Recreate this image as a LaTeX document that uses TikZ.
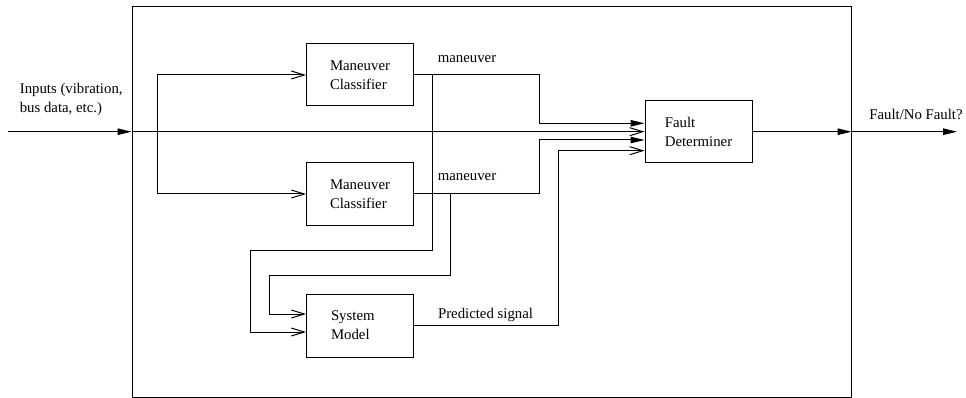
\documentclass[tikz,border=0pt]{standalone}
\usepackage{fontspec}
\setmainfont{Liberation Serif}
\usetikzlibrary{arrows.meta}
\begin{document}
\begin{tikzpicture}[x=1pt, y=-1pt, line width=1pt,
    every node/.style={font=\fontsize{14.8}{19}\selectfont},
    block/.style={draw, minimum width=107pt, minimum height=62pt, align=left, inner sep=0pt},
    solidarrow/.style={-{Triangle[length=14pt,width=6.5pt]}},
    openarrow/.style={-{Straight Barb[length=13pt,width=8pt]}}]
    \useasboundingbox (0,0) rectangle (966,398);

    % Frame
    \node[draw, minimum width=719pt, minimum height=390pt, inner sep=0pt] (sys) at (491.5,202) {};

    % Blocks
    \node[block] (mc1) at (360,75) {Maneuver\\Classifier};
    \node[block] (mc2) at (360,194) {Maneuver\\Classifier};
    \node[block, minimum height=63pt, text width=58pt] (sm) at (360,325.5) {System\\Model};
    \node[block] (fd) at (698.5,131.7) {Fault\\Determiner};

    % Labels
    \node[align=left, anchor=west] (inlabel) at (16,99) {Inputs (vibration,\\bus data, etc.)};
    \node (man1) at (467,59) {maneuver};
    \node (man2) at (467,177) {maneuver};
    \node (pred) at (485.5,315) {Predicted signal};
    \node (outlabel) at (916,114) {Fault/No Fault?};

    % Input and split
    \coordinate (in) at (8,131.7);
    \coordinate (split) at (157,131.7);
    \draw[solidarrow] (in) -- (in -| sys.west);
    \draw[openarrow] (in -| sys.west) -- (fd.west);
    \draw[openarrow] (split) |- (mc1.west);
    \draw[openarrow] (split) |- (mc2.west);

    % Classifier outputs
    \draw[solidarrow] (mc1.east) -- ++(125,0) |- ([yshift=8.4pt]fd.west);
    \draw[solidarrow] (mc2.east) -- ++(125,0) |- ([yshift=-8.3pt]fd.west);

    % Feedback to system model
    \coordinate (tap1) at (432,75);
    \coordinate (tap2) at (450.7,194);
    \draw[openarrow] (tap1) |- (250.7,250) |- ([yshift=-6.5pt]sm.west);
    \draw[openarrow] (tap2) |- (269,275.7) |- ([yshift=11.5pt]sm.west);

    % Model output
    \draw[openarrow] (sm.east) -- ++(144,0) |- ([yshift=-19pt]fd.west);

    % Output
    \coordinate (out) at (957,131.7);
    \draw[solidarrow] (fd.east) -- (fd.east -| sys.east);
    \draw[solidarrow] (fd.east -| sys.east) -- (out);
\end{tikzpicture}
\end{document}
